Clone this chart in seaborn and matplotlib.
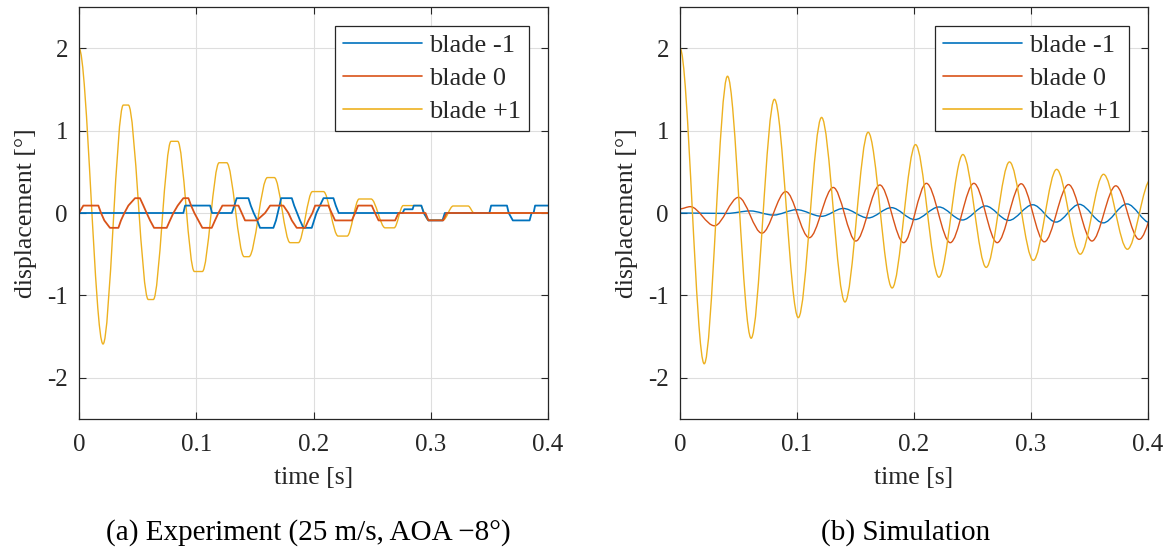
import matplotlib
matplotlib.use("Agg")
import matplotlib.pyplot as plt
import seaborn as sns
import pandas as pd
from matplotlib.path import Path
from matplotlib.patches import PathPatch
from matplotlib.lines import Line2D

# --- data ---
labels = ["blade -1", "blade 0", "blade +1"]
colors = ["#0072BD", "#D95319", "#EDB120"]

# experiment, blade -1 (quantised steps)
exp_blue_t = [0, 0.089, 0.0905, 0.1118, 0.1135, 0.1303, 0.1325, 0.1345, 0.1445, 0.1465,
              0.149, 0.152, 0.1544, 0.1658, 0.168, 0.1695, 0.171, 0.1724, 0.1815, 0.1835,
              0.186, 0.1885, 0.1914, 0.1985, 0.2005, 0.2025, 0.2055, 0.2085, 0.217, 0.219,
              0.2215, 0.276, 0.2775, 0.2845, 0.2855, 0.292, 0.294, 0.298, 0.310, 0.312,
              0.35, 0.3515, 0.365, 0.3665, 0.370, 0.3843, 0.386, 0.3877, 0.389, 0.4]
exp_blue_y = [0, 0, 0.09, 0.09, 0, 0, 0.09, 0.18, 0.18, 0.09,
              0, -0.09, -0.18, -0.18, -0.09, 0, 0.09, 0.18, 0.18, 0.09,
              0, -0.09, -0.18, -0.18, -0.09, 0, 0.09, 0.18, 0.18, 0.09,
              0, 0, 0.045, 0.045, 0.09, 0.09, 0, -0.09, -0.09, 0,
              0, 0.09, 0.09, 0, -0.09, -0.09, 0, 0, 0.09, 0.09]

# experiment, blade 0
exp_red_t = [0, 0.0037, 0.0165, 0.0188, 0.0216, 0.0264, 0.0336, 0.0358, 0.0387, 0.0421,
             0.0478, 0.052, 0.0549, 0.0577, 0.0606, 0.064, 0.0748, 0.0776, 0.0805, 0.0842,
             0.089, 0.0933, 0.0956, 0.0984, 0.1018, 0.1052, 0.1132, 0.116, 0.1189, 0.1223,
             0.136, 0.1388, 0.1416, 0.1516, 0.1587, 0.163, 0.1743, 0.1786, 0.1815, 0.1857,
             0.1928, 0.1957, 0.1991, 0.2014, 0.2127, 0.2155, 0.2184, 0.2327, 0.2355, 0.238,
             0.2497, 0.2525, 0.2555, 0.2696, 0.2725, 0.2955, 0.298, 0.3106, 0.3135, 0.4]
exp_red_y = [0, 0.09, 0.09, 0, -0.09, -0.18, -0.18, -0.09, 0, 0.09,
             0.18, 0.18, 0.09, 0, -0.09, -0.18, -0.18, -0.09, 0, 0.09,
             0.18, 0.18, 0.09, 0, -0.09, -0.18, -0.18, -0.09, 0, 0.09,
             0.09, 0, -0.09, -0.09, 0, 0.09, 0.09, 0, -0.09, -0.18,
             -0.18, -0.09, 0, 0.09, 0.09, 0, -0.09, -0.09, 0, 0.09,
             0.09, 0, -0.09, -0.09, 0, 0, -0.09, -0.09, 0, 0]

# experiment, blade +1 (extrema / flat tops)
exp_yel_t = [0, 0.0205, 0.0378, 0.0421, 0.0591, 0.0634, 0.0785, 0.0842, 0.0984, 0.1052,
             0.1195, 0.126, 0.1408, 0.145, 0.1607, 0.1666, 0.18, 0.1871, 0.1991, 0.2085,
             0.221, 0.2287, 0.2389, 0.2491, 0.2611, 0.2688, 0.2765, 0.291, 0.2978, 0.3106,
             0.3191, 0.3319, 0.337, 0.4]
exp_yel_y = [2.0, -1.59, 1.31, 1.31, -1.05, -1.05, 0.87, 0.87, -0.71, -0.71,
             0.61, 0.61, -0.53, -0.53, 0.43, 0.43, -0.36, -0.36, 0.26, 0.26,
             -0.28, -0.28, 0.17, 0.17, -0.18, -0.18, 0.09, 0.09, -0.085, -0.085,
             0.085, 0.085, 0, 0]

# simulation (extrema)
sim_blue_t = [0, 0.04, 0.06, 0.0798, 0.0997, 0.121, 0.1395, 0.1608, 0.1807, 0.2006,
              0.2213, 0.2413, 0.2612, 0.281, 0.3015, 0.3214, 0.3413, 0.3617, 0.382, 0.402]
sim_blue_y = [0, -0.005, 0.025, -0.025, 0.04, -0.04, 0.055, -0.06, 0.065, -0.08,
              0.073, -0.085, 0.085, -0.09, 0.10, -0.11, 0.105, -0.12, 0.11, -0.12]

sim_red_t = [0, 0.0088, 0.0295, 0.05, 0.07, 0.0904, 0.1105, 0.131, 0.1503, 0.1708, 0.1912,
             0.2106, 0.231, 0.2512, 0.2711, 0.2916, 0.3114, 0.3321, 0.3521, 0.3725, 0.3924, 0.413]
sim_red_y = [0.05, 0.077, -0.155, 0.19, -0.245, 0.26, -0.30, 0.31, -0.34, 0.34, -0.36,
             0.36, -0.36, 0.36, -0.36, 0.355, -0.35, 0.345, -0.34, 0.33, -0.32, 0.31]

sim_yel_t = [0, 0.0207, 0.0406, 0.0608, 0.0807, 0.1011, 0.121, 0.141, 0.1608, 0.1813, 0.2013,
             0.2213, 0.2418, 0.2617, 0.2816, 0.302, 0.3219, 0.3421, 0.362, 0.3824, 0.4025]
sim_yel_y = [2.0, -1.83, 1.66, -1.52, 1.38, -1.27, 1.16, -1.08, 0.98, -0.91, 0.83,
             -0.78, 0.71, -0.66, 0.62, -0.575, 0.53, -0.50, 0.47, -0.44, 0.41]

xticks = [0, 0.1, 0.2, 0.3, 0.4]
xtick_labels = ["0", "0.1", "0.2", "0.3", "0.4"]
yticks = [-2, -1, 0, 1, 2]
ytick_labels = ["-2", "-1", "0", "1", "2"]

sns.set_theme(style="whitegrid")
plt.rcParams["font.family"] = ["Liberation Serif", "DejaVu Serif"]
ink = "#262626"


def smooth_curve(ax, t, y, color):
    # cubic segments with flat tangents at each extremum
    verts = [(t[0], y[0])]
    codes = [Path.MOVETO]
    for i in range(1, len(t)):
        dt = t[i] - t[i - 1]
        verts += [(t[i - 1] + dt / 3, y[i - 1]), (t[i] - dt / 3, y[i]), (t[i], y[i])]
        codes += [Path.CURVE4] * 3
    ax.add_patch(PathPatch(Path(verts, codes), fill=False, edgecolor=color, lw=1.0,
                           capstyle="butt", joinstyle="round"))


def style_axes(ax):
    ax.set_xlim(0, 0.4)
    ax.set_ylim(-2.5, 2.5)
    ax.set_xticks(xticks, xtick_labels)
    ax.set_yticks(yticks, ytick_labels)
    ax.set_facecolor("white")
    ax.grid(True, color="#dedede", lw=0.8)
    for s in ax.spines.values():
        s.set_color(ink)
        s.set_linewidth(0.9)
    ax.tick_params(direction="in", length=5, width=0.8, color=ink, labelcolor=ink,
                   top=True, right=True, bottom=True, left=True, labelsize=18)
    ax.tick_params(axis="x", pad=11)
    ax.tick_params(axis="y", pad=8)
    ax.set_xlabel("time [s]", fontsize=18.5, color=ink, labelpad=8)
    ax.set_ylabel("displacement [°]", fontsize=18.5, color=ink, labelpad=7)
    handles = [Line2D([], [], color=c, lw=1.2) for c in colors]
    leg = ax.legend(handles, labels, loc="upper right", fontsize=19, frameon=True,
                    fancybox=False, framealpha=1, edgecolor=ink, borderaxespad=0.72,
                    handlelength=3.0, handletextpad=0.25, labelspacing=0.35, borderpad=0.3)
    leg.get_frame().set_linewidth(0.9)


fig = plt.figure(figsize=(11.68, 5.51), dpi=100)
ax1 = fig.add_axes([79 / 1168, 132 / 551, 469 / 1168, 412 / 551])
ax2 = fig.add_axes([680 / 1168, 132 / 551, 468 / 1168, 412 / 551])

exp_blue = pd.DataFrame({"t": exp_blue_t, "y": exp_blue_y})
exp_red = pd.DataFrame({"t": exp_red_t, "y": exp_red_y})
sns.lineplot(data=exp_blue, x="t", y="y", color=colors[0], lw=1.3, sort=False, ax=ax1)
sns.lineplot(data=exp_red, x="t", y="y", color=colors[1], lw=1.3, sort=False, ax=ax1)
smooth_curve(ax1, exp_yel_t, exp_yel_y, colors[2])

smooth_curve(ax2, sim_blue_t, sim_blue_y, colors[0])
smooth_curve(ax2, sim_red_t, sim_red_y, colors[1])
smooth_curve(ax2, sim_yel_t, sim_yel_y, colors[2])

style_axes(ax1)
style_axes(ax2)

fig.text(308 / 1168, 11 / 551, "(a) Experiment (25 m/s, AOA \u22128°)", ha="center",
         va="baseline", fontsize=21, color="black")
fig.text(906 / 1168, 11 / 551, "(b) Simulation", ha="center", va="baseline",
         fontsize=21, color="black")

fig.savefig("out.png", dpi=100)
